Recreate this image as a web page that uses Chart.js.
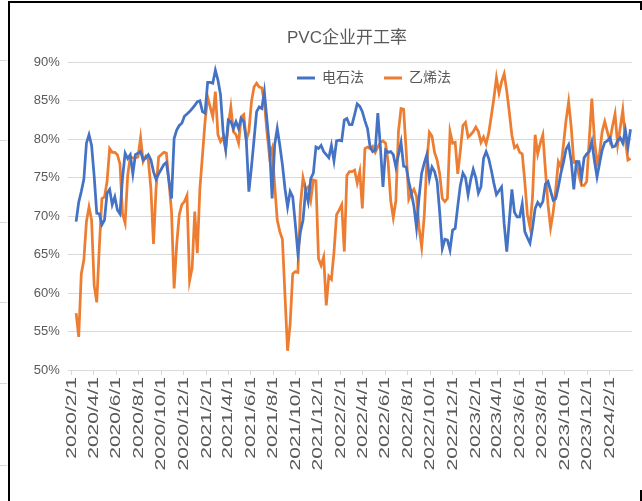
<!DOCTYPE html>
<html lang="zh-CN">
<head>
<meta charset="UTF-8">
<title>PVC企业开工率</title>
<script src="https://cdn.jsdelivr.net/npm/chart.js"></script>
<style>
  html, body { margin: 0; padding: 0; background: #fff; }
  body { width: 642px; height: 501px; position: relative; overflow: hidden; }
  .frame { position: absolute; background: #000; }
  .edge-grid { position: absolute; left: 0; width: 7px; height: 1px; background: #d9d9d9; }
  #wrap { position: absolute; left: 10px; top: 0; width: 631px; height: 501px; }
</style>
</head>
<body>
<div class="frame" style="left:8px; top:1px; width:634px; height:2px;"></div>
<div class="frame" style="left:8px; top:1px; width:2px; height:500px;"></div>
<div class="frame" style="left:640px; top:1px; width:2px; height:9px;"></div>
<div class="frame" style="left:640px; top:490px; width:2px; height:11px;"></div>
<div class="edge-grid" style="top:60px;"></div>
<div class="edge-grid" style="top:140px;"></div>
<div class="edge-grid" style="top:222px;"></div>
<div class="edge-grid" style="top:302px;"></div>
<div class="edge-grid" style="top:383px;"></div>
<div class="edge-grid" style="top:465px;"></div>
<div id="wrap"><canvas id="chart"></canvas></div>

<script>
// weekly readings, first week ending 2020-02-13
const firstWeek = '2020-02-13';
const tickLabels = ['2020/2/1', '2020/4/1', '2020/6/1', '2020/8/1', '2020/10/1', '2020/12/1',
  '2021/2/1', '2021/4/1', '2021/6/1', '2021/8/1', '2021/10/1', '2021/12/1',
  '2022/2/1', '2022/4/1', '2022/6/1', '2022/8/1', '2022/10/1', '2022/12/1',
  '2023/2/1', '2023/4/1', '2023/6/1', '2023/8/1', '2023/10/1', '2023/12/1', '2024/2/1'];
const axisEnd = '2024/4/1';

// 电石法
const carbide = [
  69.3, 71.8, 73.2, 74.8, 79.5, 80.6, 79.2, 75.2, 70.4, 70.3,
  68.9, 69.5, 73.0, 73.5, 71.5, 72.5, 70.8, 70.3, 75.0, 78.2,
  77.5, 78.0, 75.5, 78.0, 78.2, 78.4, 77.3, 77.6, 78.0, 77.3,
  75.8, 74.8, 75.5, 76.1, 76.7, 77.0, 74.6, 72.3, 80.1, 81.2,
  81.8, 82.1, 83.0, 83.3, 83.6, 84.0, 84.4, 84.9, 85.0, 83.6,
  83.4, 87.4, 87.4, 87.3, 89.0, 87.7, 85.8, 81.0, 78.7, 82.5,
  82.3, 81.4, 82.3, 81.4, 82.7, 82.3, 79.8, 73.2, 76.4, 80.0,
  83.6, 84.2, 84.0, 86.2, 82.5, 79.0, 72.3, 79.3, 81.4, 79.2,
  76.7, 73.6, 71.2, 73.2, 72.5, 69.0, 65.2, 68.0, 69.5, 73.4,
  71.9, 74.9, 75.6, 79.0, 78.8, 79.2, 78.4, 78.0, 77.6, 79.2,
  77.2, 79.8, 79.9, 79.8, 82.5, 82.7, 81.9, 81.9, 83.2, 84.6,
  84.3, 83.6, 82.4, 81.4, 79.0, 78.4, 78.6, 83.4, 79.0, 73.8,
  78.6, 78.3, 78.4, 78.0, 76.4, 78.0, 79.6, 76.5, 76.4, 74.5,
  73.0, 71.3, 68.5, 72.5, 75.6, 76.9, 78.0, 74.9, 76.4, 75.8,
  74.5, 70.5, 65.8, 67.0, 66.9, 65.6, 68.2, 68.4, 71.3, 74.0,
  75.6, 75.0, 72.8, 74.7, 76.1, 75.0, 73.0, 73.8, 77.5, 78.4,
  77.5, 76.0, 74.3, 72.8, 73.3, 73.8, 69.0, 65.4, 69.5, 73.5,
  70.5, 69.9, 69.9, 71.6, 68.0, 67.2, 66.5, 68.5, 71.0, 71.8,
  71.3, 71.9, 74.2, 74.5, 73.3, 72.1, 72.3, 73.8, 75.6, 77.0,
  78.7, 79.3, 77.2, 73.5, 77.1, 77.1, 75.0, 77.6, 78.1, 78.4,
  79.7, 77.2, 75.1, 76.9, 78.6, 79.6, 79.8, 80.2, 79.0, 79.1,
  79.8, 80.2, 79.5, 81.2, 79.0, 81.3
];

// 乙烯法
const ethylene = [
  57.4, 54.3, 62.5, 64.3, 69.3, 71.2, 69.5, 61.0, 58.8, 66.0,
  72.3, 72.5, 74.5, 78.8, 78.3, 78.3, 78.0, 76.8, 70.3, 69.1,
  75.3, 77.7, 77.6, 77.6, 77.7, 80.2, 77.1, 77.8, 77.3, 73.6,
  66.4, 73.6, 77.7, 78.0, 78.3, 78.2, 74.5, 70.6, 60.6, 66.3,
  70.2, 71.5, 71.9, 72.7, 61.6, 63.3, 70.6, 65.2, 73.6, 77.9,
  82.3, 85.5, 84.2, 82.9, 86.2, 80.6, 79.7, 80.3, 78.7, 81.8,
  84.2, 81.0, 80.6, 79.5, 82.9, 83.2, 79.9, 81.0, 84.9, 86.8,
  87.3, 86.8, 86.7, 84.8, 81.0, 77.8, 78.8, 74.0, 69.5, 68.0,
  67.0, 59.7, 52.5, 56.0, 62.5, 62.8, 62.7, 71.5, 75.0, 73.5,
  73.8, 72.1, 74.7, 74.6, 64.5, 63.6, 64.7, 58.4, 62.2, 61.8,
  65.3, 70.2, 70.8, 71.5, 65.4, 75.3, 75.8, 75.8, 76.0, 74.3,
  75.8, 71.0, 78.8, 79.0, 78.8, 79.1, 78.3, 79.0, 79.6, 79.8,
  79.5, 77.0, 72.0, 69.8, 72.0, 81.0, 84.0, 83.9, 78.5, 72.2,
  73.0, 73.5, 72.6, 68.5, 66.0, 70.0, 77.0, 80.9, 80.4, 78.3,
  77.3, 75.5, 72.3, 71.9, 72.3, 81.0, 79.5, 79.6, 75.5, 78.5,
  81.8, 82.2, 80.3, 80.6, 81.0, 81.6, 81.0, 79.6, 80.3, 79.4,
  80.8, 83.0, 85.3, 88.0, 86.0, 87.5, 88.5, 86.3, 83.5, 80.5,
  78.9, 79.2, 78.3, 78.1, 74.5, 70.2, 68.6, 72.5, 80.6, 78.1,
  79.5, 80.6, 76.0, 71.5, 68.5, 70.5, 73.5, 77.1, 76.4, 79.3,
  82.5, 84.9, 81.6, 77.0, 77.1, 75.3, 74.0, 74.0, 74.5, 80.0,
  85.3, 80.0, 76.9, 78.1, 81.0, 82.3, 81.0, 79.8, 81.7, 83.3,
  79.3, 81.5, 83.8, 79.8, 77.3, 77.5
];

const DAY = 86400000;
const origin = Date.UTC(2020, 1, 1);
function dayOf(s) {
  const [y, m, d] = s.split(/[-\/]/).map(Number);
  return (Date.UTC(y, m - 1, d) - origin) / DAY;
}
const start = dayOf(firstWeek);
const weeks = carbide.map((_, i) => start + 7 * i);

const textColor = '#595959';
const gridColor = '#d9d9d9';
const fontFamily = "'Liberation Sans', 'Noto Sans CJK SC', sans-serif";

// title and legend sit at fixed spots like in the Excel original,
// and the rotated date labels are stretched downwards like the source image
const placeBoxes = {
  id: 'placeBoxes',
  afterLayout(chart) {
    const t = chart.titleBlock;
    if (t) {
      const w = t.right - t.left;
      t.left = 337 - w / 2;
      t.right = t.left + w;
    }
    const l = chart.legend;
    if (l) {
      const w = l.right - l.left;
      const h = l.bottom - l.top;
      l.left = 364 - w / 2;
      l.right = l.left + w;
      l.top = 51;
      l.bottom = l.top + h;
    }
    const x = chart.scales.x;
    if (x && !x._stretched) {
      const drawLabels = x.drawLabels;
      x.drawLabels = function (area) {
        const ctx = this.ctx;
        const y0 = this.top;
        ctx.save();
        ctx.translate(0, y0);
        ctx.scale(1, 1.4);
        ctx.translate(0, -y0);
        drawLabels.call(this, area);
        ctx.restore();
      };
      x._stretched = true;
    }
  }
};

new Chart(document.getElementById('chart'), {
  type: 'line',
  data: {
    datasets: [
      {
        label: '电石法',
        data: carbide.map((v, i) => ({ x: weeks[i], y: v })),
        borderColor: '#4472C4',
        backgroundColor: '#4472C4',
        borderWidth: 2.75,
        pointRadius: 0,
        tension: 0
      },
      {
        label: '乙烯法',
        data: ethylene.map((v, i) => ({ x: weeks[i], y: v })),
        borderColor: '#ED7D31',
        backgroundColor: '#ED7D31',
        borderWidth: 2.75,
        pointRadius: 0,
        tension: 0
      }
    ]
  },
  options: {
    responsive: true,
    maintainAspectRatio: false,
    animation: false,
    layout: { padding: { left: 0, right: 9, top: 0, bottom: 0 } },
    plugins: {
      title: {
        display: true,
        text: 'PVC企业开工率',
        color: textColor,
        font: { family: fontFamily, size: 17, weight: 'normal' },
        padding: { top: 28, bottom: 14 }
      },
      legend: {
        position: 'bottom',
        labels: {
          boxWidth: 18,
          boxHeight: 3,
          padding: 20,
          color: textColor,
          font: { family: fontFamily, size: 14 },
          generateLabels: chart => Chart.defaults.plugins.legend.labels.generateLabels(chart)
            .map(item => ({ ...item, fillStyle: item.strokeStyle, lineWidth: 0 }))
        }
      },
      tooltip: { enabled: false }
    },
    scales: {
      x: {
        type: 'linear',
        min: 0,
        max: dayOf(axisEnd),
        afterBuildTicks: scale => {
          scale.ticks = tickLabels.map(t => ({ value: dayOf(t) }));
        },
        afterFit: scale => { scale.height = 87; },
        ticks: {
          autoSkip: false,
          minRotation: 90,
          maxRotation: 90,
          padding: 0,
          color: textColor,
          font: { family: fontFamily, size: 15 },
          callback: (value, index) => tickLabels[index]
        },
        grid: { drawOnChartArea: false, drawTicks: true, tickLength: 5, color: gridColor },
        border: { display: true, color: gridColor }
      },
      y: {
        min: 50,
        max: 90,
        afterFit: scale => { scale.width = 61.7; },
        ticks: {
          stepSize: 5,
          padding: 8,
          color: textColor,
          font: { family: fontFamily, size: 13 },
          callback: v => v + '%'
        },
        grid: { color: gridColor, drawTicks: true, tickLength: 4 },
        border: { display: false }
      }
    }
  },
  plugins: [placeBoxes]
});
</script>
</body>
</html>
